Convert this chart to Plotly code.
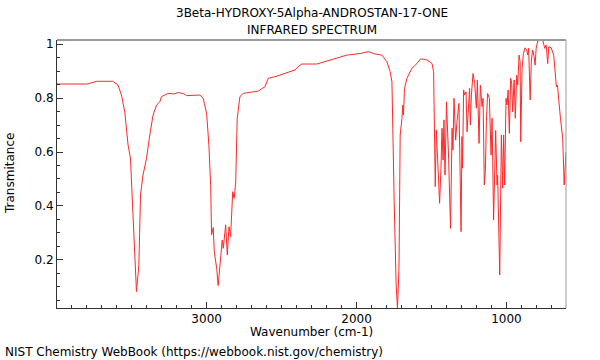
import plotly.graph_objects as go

title_line1 = "3Beta-HYDROXY-5Alpha-ANDROSTAN-17-ONE"
title_line2 = "INFRARED SPECTRUM"
x_title = "Wavenumber (cm-1)"
y_title = "Transmitance"
credit = "NIST Chemistry WebBook (https://webbook.nist.gov/chemistry)"

wavenumber = [
    3998, 3793, 3733, 3646, 3626, 3591, 3568, 3546, 3524, 3508, 3490, 3479, 3468, 3452, 3441,
    3424, 3401, 3379, 3357, 3334, 3312, 3301, 3267, 3245, 3223, 3190, 3156, 3134, 3090, 3045,
    3023, 3000, 2985, 2973, 2967, 2956, 2949, 2933, 2923, 2911, 2896, 2889, 2873, 2862, 2851,
    2840, 2826, 2816, 2806, 2796, 2778, 2756, 2699, 2655, 2611, 2589, 2544, 2510, 2410, 2377,
    2365, 2265, 2176, 2065, 1976, 1920, 1876, 1831, 1798, 1776, 1764, 1758, 1749, 1736, 1727,
    1717, 1709, 1697, 1691, 1687, 1680, 1664, 1631, 1597, 1575, 1553, 1530, 1513, 1497, 1486,
    1480, 1475, 1468, 1460, 1446, 1437, 1430, 1423, 1417, 1410, 1400, 1386, 1373, 1363, 1357,
    1350, 1339, 1330, 1317, 1303, 1297, 1293, 1286, 1279, 1270, 1263, 1256, 1246, 1241, 1234,
    1223, 1212, 1201, 1194, 1183, 1174, 1163, 1156, 1148, 1141, 1134, 1126, 1114, 1103, 1096,
    1086, 1079, 1072, 1063, 1059, 1045, 1034, 1025, 1019, 1012, 1003, 996, 989, 981, 972,
    965, 959, 949, 941, 932, 925, 916, 909, 905, 896, 887, 876, 865, 858, 852,
    842, 834, 825, 816, 809, 802, 792, 774, 756, 745, 735, 725, 718, 702, 685,
    667, 660, 640, 625, 615, 606, 603,
]
transmittance = [
    0.852, 0.852, 0.862, 0.862, 0.862, 0.848, 0.811, 0.749, 0.626, 0.577, 0.367, 0.231, 0.083, 0.181, 0.441,
    0.515, 0.577, 0.663, 0.737, 0.774, 0.786, 0.805, 0.815, 0.817, 0.815, 0.820, 0.817, 0.809, 0.811, 0.811,
    0.799, 0.743, 0.626, 0.478, 0.293, 0.320, 0.231, 0.169, 0.105, 0.169, 0.274, 0.243, 0.330, 0.219, 0.323,
    0.286, 0.453, 0.428, 0.490, 0.725, 0.805, 0.817, 0.823, 0.826, 0.842, 0.873, 0.879, 0.885, 0.904, 0.922,
    0.926, 0.926, 0.941, 0.959, 0.965, 0.972, 0.963, 0.959, 0.935, 0.898, 0.860, 0.726, 0.416, 0.107, 0.022,
    0.169, 0.663, 0.725, 0.774, 0.737, 0.836, 0.873, 0.910, 0.928, 0.944, 0.944, 0.941, 0.935, 0.928, 0.898,
    0.663, 0.472, 0.681, 0.564, 0.410, 0.540, 0.688, 0.570, 0.719, 0.515, 0.786, 0.577, 0.317, 0.688, 0.607,
    0.799, 0.644, 0.712, 0.780, 0.305, 0.657, 0.540, 0.830, 0.811, 0.823, 0.675, 0.749, 0.836, 0.700, 0.811,
    0.891, 0.854, 0.762, 0.867, 0.632, 0.848, 0.768, 0.799, 0.478, 0.527, 0.712, 0.817, 0.799, 0.589, 0.725,
    0.348, 0.515, 0.680, 0.478, 0.515, 0.144, 0.663, 0.466, 0.663, 0.478, 0.799, 0.774, 0.830, 0.669, 0.873,
    0.854, 0.749, 0.867, 0.725, 0.885, 0.848, 0.959, 0.935, 0.638, 0.910, 0.965, 0.986, 0.978, 0.959, 0.984,
    0.793, 0.941, 0.978, 0.953, 0.922, 0.984, 1.011, 1.015, 1.011, 0.984, 0.996, 0.928, 0.990, 0.986, 0.959,
    0.842, 0.848, 0.725, 0.651, 0.478, 0.589, 0.600,
]

x_tick_vals = [1000, 2000, 3000]
y_tick_vals = [0.2, 0.4, 0.6, 0.8, 1.0]
y_tick_text = ["0.2", "0.4", "0.6", "0.8", "1"]

FONT = "DejaVu Sans"

fig = go.Figure()
fig.add_trace(go.Scatter(
    x=wavenumber, y=transmittance, mode="lines",
    line=dict(color="rgb(255,40,40)", width=1),
    showlegend=False, hoverinfo="skip",
))

fig.update_layout(
    width=600, height=360,
    margin=dict(l=57, r=34, t=40, b=52),
    paper_bgcolor="white", plot_bgcolor="white",
    font=dict(family=FONT, size=12, color="black"),
    xaxis=dict(
        range=[3998, 603], showgrid=False, zeroline=False,
        tickvals=x_tick_vals, ticks="inside", ticklen=6, tickcolor="#333",
        showline=True, linecolor="#333", linewidth=1,
        minor=dict(dtick=100, ticks="inside", ticklen=3, tickcolor="#333", showgrid=False),
        tickfont=dict(family=FONT, size=12),
    ),
    yaxis=dict(
        range=[0.022, 1.015], showgrid=False, zeroline=False,
        tickvals=y_tick_vals, ticktext=y_tick_text, ticks="inside", ticklen=6, tickcolor="#333",
        showline=True, linecolor="#333", linewidth=1,
        minor=dict(dtick=0.05, tick0=0, ticks="inside", ticklen=3, tickcolor="#333", showgrid=False),
        tickfont=dict(family=FONT, size=12),
    ),
)

# top and right frame lines (gray)
fig.add_shape(type="line", xref="paper", yref="paper", x0=0, x1=1, y0=1, y1=1,
              line=dict(color="#999", width=2))
fig.add_shape(type="line", xref="paper", yref="paper", x0=1, x1=1, y0=0, y1=1,
              line=dict(color="#999", width=1))

fig.add_annotation(text=title_line1, xref="paper", yref="paper", x=0.5, y=(308 - 13) / 268,
                   showarrow=False, xanchor="center", yanchor="middle", font=dict(size=12, family=FONT))
fig.add_annotation(text=title_line2, xref="paper", yref="paper", x=0.5, y=(308 - 30) / 268,
                   showarrow=False, xanchor="center", yanchor="middle", font=dict(size=12, family=FONT))
fig.add_annotation(text=x_title, xref="paper", yref="paper", x=0.5, y=(308 - 332) / 268,
                   showarrow=False, xanchor="center", yanchor="middle", font=dict(size=12, family=FONT))
fig.add_annotation(text=y_title, xref="paper", yref="paper", x=(10 - 57) / 509, y=0.5,
                   textangle=-90, showarrow=False, xanchor="center", yanchor="middle",
                   font=dict(size=12, family=FONT))
fig.add_annotation(text=credit, xref="paper", yref="paper", x=(3 - 57) / 509, y=(308 - 352) / 268,
                   showarrow=False, xanchor="left", yanchor="middle", font=dict(size=12, family=FONT))

fig.write_html("out.html", config={"displayModeBar": False},
               post_script="document.body.style.margin='0px';")
